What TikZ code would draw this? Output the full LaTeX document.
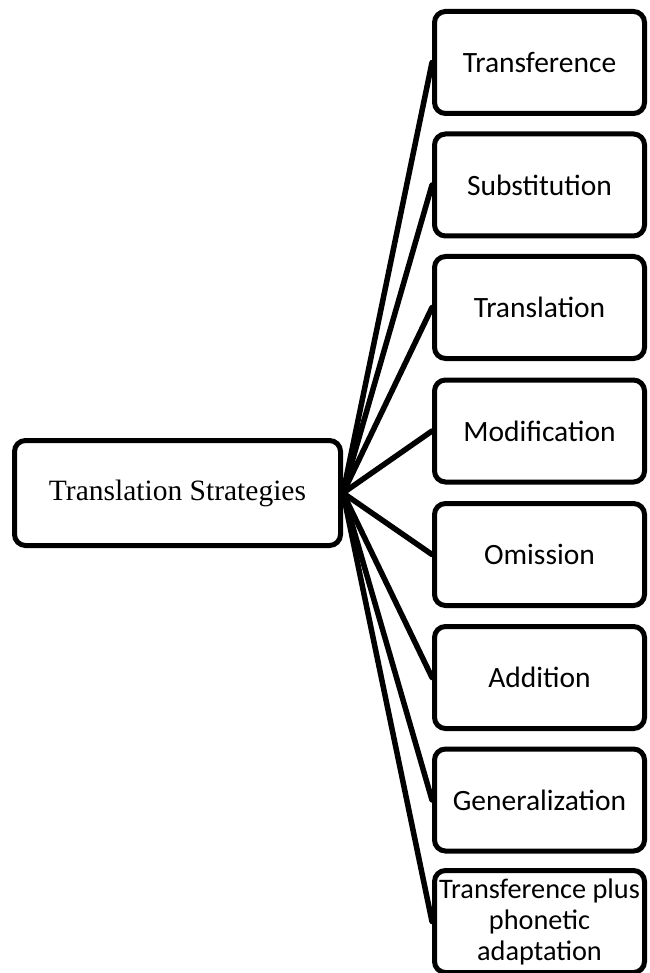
\documentclass[tikz,border=0pt]{standalone}
\usepackage{fontspec}
\setmainfont{Liberation Serif}
\newfontfamily\boxfont{Carlito}
\begin{document}
\begin{tikzpicture}[x=1pt,y=-1pt,
  box/.style={draw=black, line width=5pt, rounded corners=11pt, fill=white,
    minimum width=210pt, minimum height=102pt, inner sep=0pt, align=center,
    font=\boxfont\fontsize{29.5}{31}\selectfont},
  rootbox/.style={draw=black, line width=5pt, rounded corners=11pt, fill=white,
    minimum width=326pt, minimum height=105pt, inner sep=0pt,
    font=\fontsize{29.5}{32}\selectfont},
  link/.style={line width=5.5pt, line cap=round}]
\clip (0,0) rectangle (649,973);
\fill[white] (0,0) rectangle (649,973);
\node[rootbox] (root) at (177.5,493) {Translation Strategies};
\node[box] (b1) at (539.5,62.5) {Transference};
\node[box] (b2) at (539.5,185) {Substitution};
\node[box] (b3) at (539.5,307.5) {Translation};
\node[box] (b4) at (539.5,431) {Modification};
\node[box] (b5) at (539.5,554.5) {Omission};
\node[box] (b6) at (539.5,677.5) {Addition};
\node[box] (b7) at (539.5,800) {Generalization};
\node[box, font=\boxfont\fontsize{28.3}{31}\selectfont] (b8) at (539.5,921.5) {Transference plus\\phonetic\\adaptation};
\foreach \b in {b1,b2,b3,b4,b5,b6,b7,b8}
  \draw[link] (root.east) -- (\b.west);
\end{tikzpicture}
\end{document}
